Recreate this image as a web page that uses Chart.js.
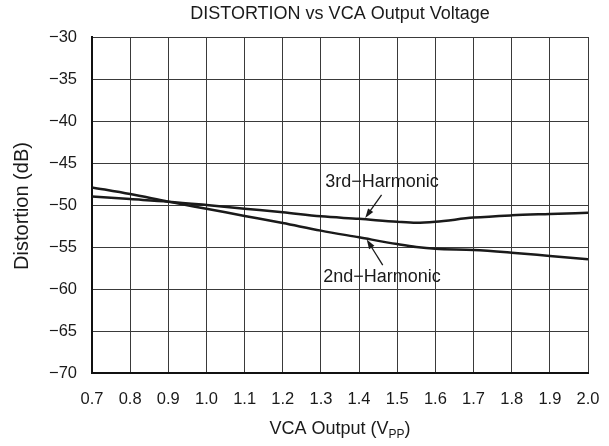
<!DOCTYPE html>
<html>
<head>
<meta charset="utf-8">
<script src="https://cdn.jsdelivr.net/npm/chart.js@4/dist/chart.umd.min.js"></script>
<style>
  html, body { margin: 0; padding: 0; background: #fff; }
  #wrap { width: 609px; height: 446px; }
</style>
</head>
<body>
<div id="wrap"><canvas id="myChart" width="609" height="446"></canvas></div>
<script>
// VCA output voltage (Vpp)
const voltage = [0.7, 0.8, 0.9, 1.0, 1.1, 1.2, 1.3, 1.4, 1.5, 1.55, 1.6, 1.7, 1.8, 1.9, 2.0];
// distortion in dB
const secondHarmonic = [-47.9, -48.7, -49.6, -50.45, -51.3, -52.15, -53.05, -53.85, -54.65, -55.0, -55.22, -55.36, -55.68, -56.07, -56.46];
const thirdHarmonic = [-49.0, -49.3, -49.6, -50.0, -50.44, -50.87, -51.35, -51.65, -52.0, -52.12, -52.0, -51.5, -51.23, -51.07, -50.92];

const xTicks = [0.7, 0.8, 0.9, 1.0, 1.1, 1.2, 1.3, 1.4, 1.5, 1.6, 1.7, 1.8, 1.9, 2.0];
const yTicks = [-30, -35, -40, -45, -50, -55, -60, -65, -70];

const FONT = "'Liberation Sans', Arial, sans-serif";
const INK = '#1a1a1a';

function toPoints(ys) {
    return voltage.map((v, i) => ({ x: v, y: ys[i] }));
}

// titles, axis caption with subscript, and the curve callouts
const decorations = {
    id: 'decorations',
    afterDraw(chart) {
        const ctx = chart.ctx;
        const xs = chart.scales.x;
        const ys = chart.scales.y;
        const area = chart.chartArea;
        const midX = (area.left + area.right) / 2;

        ctx.save();
        ctx.fillStyle = INK;
        ctx.textBaseline = 'middle';
        ctx.textAlign = 'center';
        ctx.font = '18px ' + FONT;
        ctx.fillText('DISTORTION vs VCA Output Voltage', midX, 14);

        // x axis caption: VCA Output (V_PP)
        const parts = ['VCA Output (V', 'PP', ')'];
        ctx.font = '18px ' + FONT;
        const w0 = ctx.measureText(parts[0]).width;
        const w2 = ctx.measureText(parts[2]).width;
        ctx.font = '12px ' + FONT;
        const w1 = ctx.measureText(parts[1]).width;
        let x = midX - (w0 + w1 + w2) / 2;
        const y = 429;
        ctx.textAlign = 'left';
        ctx.font = '18px ' + FONT;
        ctx.fillText(parts[0], x, y);
        x += w0;
        ctx.font = '12px ' + FONT;
        ctx.fillText(parts[1], x, y + 6);
        x += w1;
        ctx.font = '18px ' + FONT;
        ctx.fillText(parts[2], x, y);

        // y axis caption
        ctx.save();
        ctx.translate(22, 206);
        ctx.rotate(-Math.PI / 2);
        ctx.textAlign = 'center';
        ctx.font = '20px ' + FONT;
        ctx.fillText('Distortion (dB)', 0, 0);
        ctx.restore();

        // callouts
        ctx.textAlign = 'center';
        ctx.font = '18px ' + FONT;
        ctx.fillText('3rd\u2212Harmonic', xs.getPixelForValue(1.46), ys.getPixelForValue(-47.3));
        ctx.fillText('2nd\u2212Harmonic', xs.getPixelForValue(1.46), ys.getPixelForValue(-58.6));

        drawArrow(ctx, xs.getPixelForValue(1.459), ys.getPixelForValue(-48.8),
                  xs.getPixelForValue(1.416), ys.getPixelForValue(-51.55));
        drawArrow(ctx, xs.getPixelForValue(1.462), ys.getPixelForValue(-57.15),
                  xs.getPixelForValue(1.42), ys.getPixelForValue(-54.1));
        ctx.restore();
    }
};

function drawArrow(ctx, x1, y1, x2, y2) {
    const ang = Math.atan2(y2 - y1, x2 - x1);
    const head = 10;
    const spread = 0.32;
    ctx.strokeStyle = INK;
    ctx.lineWidth = 1.3;
    ctx.beginPath();
    ctx.moveTo(x1, y1);
    ctx.lineTo(x2 - Math.cos(ang) * head * 0.8, y2 - Math.sin(ang) * head * 0.8);
    ctx.stroke();
    ctx.beginPath();
    ctx.moveTo(x2, y2);
    ctx.lineTo(x2 - head * Math.cos(ang - spread), y2 - head * Math.sin(ang - spread));
    ctx.lineTo(x2 - head * Math.cos(ang + spread), y2 - head * Math.sin(ang + spread));
    ctx.closePath();
    ctx.fill();
}

const ctx = document.getElementById('myChart');
const distortionChart = new Chart(ctx, {
    type: 'line',
    data: {
        datasets: [{
            label: '2nd-Harmonic',
            data: toPoints(secondHarmonic),
            borderColor: INK,
            borderWidth: 2.5,
            pointRadius: 0,
            cubicInterpolationMode: 'monotone'
        }, {
            label: '3rd-Harmonic',
            data: toPoints(thirdHarmonic),
            borderColor: INK,
            borderWidth: 2.5,
            pointRadius: 0,
            cubicInterpolationMode: 'monotone'
        }]
    },
    options: {
        responsive: false,
        animation: false,
        devicePixelRatio: 1,
        layout: { padding: { top: 37, right: 21, bottom: 0, left: 0 } },
        plugins: {
            legend: { display: false },
            tooltip: { enabled: false }
        },
        scales: {
            x: {
                type: 'linear',
                min: 0.7,
                max: 2.0,
                afterFit: (scale) => {
                    scale.height = 73;
                    // the last tick label may hang into the right margin
                    scale.paddingLeft = 0;
                    scale.paddingRight = 0;
                },
                afterBuildTicks: (scale) => { scale.ticks = xTicks.map(v => ({ value: v })); },
                ticks: {
                    color: INK,
                    font: { family: FONT, size: 16.5 },
                    padding: 17,
                    maxRotation: 0,
                    autoSkip: false,
                    callback: (v) => Number(v).toFixed(1)
                },
                grid: { color: '#3a3a3a', lineWidth: 1, drawTicks: false },
                border: { color: '#111', width: 2 }
            },
            y: {
                type: 'linear',
                min: -70,
                max: -30,
                afterFit: (scale) => {
                    scale.width = 92;
                    scale.paddingTop = 0;
                    scale.paddingBottom = 0;
                },
                afterBuildTicks: (scale) => { scale.ticks = yTicks.map(v => ({ value: v })); },
                ticks: {
                    color: INK,
                    font: { family: FONT, size: 16.5 },
                    padding: 15,
                    autoSkip: false,
                    callback: (v) => String(v).replace('-', '\u2212')
                },
                grid: { color: '#3a3a3a', lineWidth: 1, drawTicks: false },
                border: { color: '#111', width: 2 }
            }
        }
    },
    plugins: [decorations]
});
</script>
</body>
</html>
